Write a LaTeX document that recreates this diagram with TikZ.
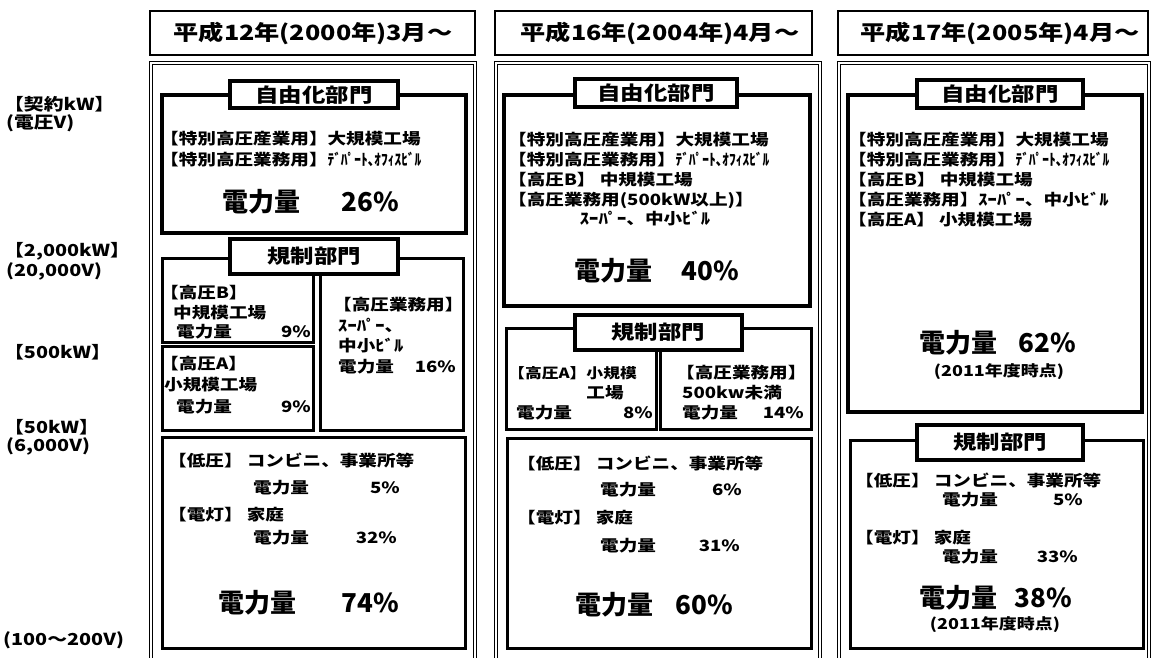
\documentclass[tikz,border=0pt]{standalone}
\usepackage{fontspec}
\setmainfont{Noto Sans CJK JP}
\newfontfamily\wide{Noto Sans CJK JP}[FakeStretch=1.2]
\newcommand{\hk}[1]{\scalebox{0.72}[1]{#1}}
\begin{document}
\begin{tikzpicture}[x=1pt,y=-1pt,
  t/.style={inner sep=0pt,font=\wide\bfseries\fontsize{15.5}{18}\selectfont},
  tw/.style={t,anchor=west},
  te/.style={t,anchor=east},
  big/.style={inner sep=0pt,font=\bfseries\fontsize{26}{28}\selectfont},
  note/.style={inner sep=0pt,font=\wide\bfseries\fontsize{15}{17}\selectfont},
  side/.style={inner sep=0pt,anchor=west,font=\wide\bfseries\fontsize{16.5}{18}\selectfont},
  hdr/.style={inner sep=0pt,font=\wide\bfseries\fontsize{21}{23}\selectfont},
  hdrbox/.style={draw,line width=2pt},
  frame/.style={draw,line width=1.1pt,double=white,double distance=2pt},
  libbox/.style={draw,line width=4pt},
  subbox/.style={draw,line width=3pt},
  seclab/.style={draw,line width=4pt,fill=white,inner sep=0pt,
    font=\wide\bfseries\fontsize{19.5}{22}\selectfont}]
\useasboundingbox (0,0) rectangle (1152,658);
\fill[white] (0,0) rectangle (1152,658);

% left scale labels
\node[side] (s1) at (4,104) {【契約kW】};
\node[side] (s2) at (6,123) {(電圧V)};
\node[side] (s3) at (4,251) {【2,000kW】};
\node[side] (s4) at (6,271) {(20,000V)};
\node[side] (s5) at (4,352) {【500kW】};
\node[side] (s6) at (4,427) {【50kW】};
\node[side] (s7) at (6,446) {(6,000V)};
\node[side] (s8) at (3,640) {(100〜200V)};

% ===== column 1 =====
\draw[hdrbox] (150,11) rectangle (475,55);
\node[hdr] (h1) at (313,33) {平成12年(2000年)3月〜};
\draw[frame] (151,63) rectangle (475,680);
\draw[libbox] (162,95) rectangle (466,233);
\node[seclab,minimum width=168pt,minimum height=27pt] (l1a) at (314,95) {自由化部門};
\node[tw] (c1a) at (160,139) {【特別高圧産業用】大規模工場};
\node[tw] (c1b) at (160,160) {【特別高圧業務用】\hk{ﾃﾞﾊﾟｰﾄ､ｵﾌｨｽﾋﾞﾙ}};
\node[big] (c1c) at (261,202) {電力量};
\node[big] (c1d) at (370,202) {26\%};
\draw[subbox] (162,258) rectangle (313,342);
\draw[subbox] (162,346) rectangle (313,430);
\draw[subbox] (320,258) rectangle (463,430);
\node[seclab,minimum width=168pt,minimum height=35pt] (l1b) at (314,256) {規制部門};
\node[tw] (c1e) at (160,293) {【高圧B】};
\node[tw] (c1f) at (173,313) {中規模工場};
\node[tw] (c1g) at (176,332) {電力量};
\node[te] (c1h) at (311,332) {9\%};
\node[tw] (c1i) at (160,364) {【高圧A】};
\node[tw] (c1j) at (164,385) {小規模工場};
\node[tw] (c1k) at (176,407) {電力量};
\node[te] (c1l) at (311,407) {9\%};
\node[tw] (c1m) at (333,305) {【高圧業務用】};
\node[tw] (c1n) at (338,325) {ｽｰﾊﾟｰ、};
\node[tw] (c1o) at (338,346) {中小ﾋﾞﾙ};
\node[tw] (c1p) at (338,367) {電力量};
\node[te] (c1q) at (456,367) {16\%};
\draw[subbox] (162,437) rectangle (465,648);
\node[tw] (c1r) at (168,460) {【低圧】 コンビニ、事業所等};
\node[tw] (c1s) at (253,488) {電力量};
\node[te] (c1t) at (400,488) {5\%};
\node[tw] (c1u) at (168,515) {【電灯】 家庭};
\node[tw] (c1v) at (253,538) {電力量};
\node[te] (c1w) at (397,538) {32\%};
\node[big] (c1x) at (257,603) {電力量};
\node[big] (c1y) at (370,603) {74\%};

% ===== column 2 =====
\draw[hdrbox] (495,11) rectangle (812,55);
\node[hdr] (h2) at (660,33) {平成16年(2004年)4月〜};
\draw[frame] (496,63) rectangle (820,680);
\draw[libbox] (504,95) rectangle (810,306);
\node[seclab,minimum width=162pt,minimum height=28pt] (l2a) at (656,93) {自由化部門};
\node[tw] (c2a) at (508,140) {【特別高圧産業用】大規模工場};
\node[tw] (c2b) at (508,160) {【特別高圧業務用】\hk{ﾃﾞﾊﾟｰﾄ､ｵﾌｨｽﾋﾞﾙ}};
\node[tw] (c2c) at (508,180) {【高圧B】 中規模工場};
\node[tw] (c2d) at (508,200) {【高圧業務用(500kW以上)】};
\node[t] (c2e) at (645,219) {ｽｰﾊﾟｰ、中小ﾋﾞﾙ};
\node[big] (c2f) at (613,271) {電力量};
\node[big] (c2g) at (710,271) {40\%};
\draw[subbox] (506,328) rectangle (656,429);
\draw[subbox] (660,328) rectangle (811,429);
\node[seclab,minimum width=167pt,minimum height=35pt] (l2b) at (658,332) {規制部門};
\node[tw,font=\wide\bfseries\fontsize{14}{16}\selectfont] (c2h) at (508,373) {【高圧A】小規模};
\node[t] (c2i) at (605,393) {工場};
\node[tw] (c2j) at (516,413) {電力量};
\node[te] (c2k) at (653,413) {8\%};
\node[tw] (c2l) at (676,373) {【高圧業務用】};
\node[tw] (c2m) at (682,393) {500kw未満};
\node[tw] (c2n) at (682,413) {電力量};
\node[te] (c2o) at (804,413) {14\%};
\draw[subbox] (507,438) rectangle (811,648);
\node[tw] (c2p) at (517,463) {【低圧】 コンビニ、事業所等};
\node[tw] (c2q) at (600,490) {電力量};
\node[te] (c2r) at (742,490) {6\%};
\node[tw] (c2s) at (517,518) {【電灯】 家庭};
\node[tw] (c2t) at (600,546) {電力量};
\node[te] (c2u) at (740,546) {31\%};
\node[big] (c2v) at (614,605) {電力量};
\node[big] (c2w) at (704,605) {60\%};

% ===== column 3 =====
\draw[hdrbox] (838,11) rectangle (1148,55);
\node[hdr] (h3) at (1000,33) {平成17年(2005年)4月〜};
\draw[frame] (839,63) rectangle (1149,680);
\draw[libbox] (848,95) rectangle (1142,412);
\node[seclab,minimum width=166pt,minimum height=28pt] (l3a) at (1000,94) {自由化部門};
\node[tw] (c3a) at (848,140) {【特別高圧産業用】大規模工場};
\node[tw] (c3b) at (848,160) {【特別高圧業務用】\hk{ﾃﾞﾊﾟｰﾄ､ｵﾌｨｽﾋﾞﾙ}};
\node[tw] (c3c) at (848,180) {【高圧B】 中規模工場};
\node[tw] (c3d) at (848,200) {【高圧業務用】ｽｰﾊﾟｰ、中小ﾋﾞﾙ};
\node[tw] (c3e) at (848,220) {【高圧A】 小規模工場};
\node[big] (c3f) at (958,343) {電力量};
\node[big] (c3g) at (1047,343) {62\%};
\node[note] (c3h) at (999,372) {(2011年度時点)};
\draw[subbox] (850,440) rectangle (1143,648);
\node[seclab,minimum width=166pt,minimum height=35pt] (l3b) at (1000,442) {規制部門};
\node[tw] (c3i) at (855,480) {【低圧】 コンビニ、事業所等};
\node[tw] (c3j) at (942,500) {電力量};
\node[te] (c3k) at (1083,500) {5\%};
\node[tw] (c3l) at (855,538) {【電灯】 家庭};
\node[tw] (c3m) at (942,557) {電力量};
\node[te] (c3n) at (1078,557) {33\%};
\node[big] (c3o) at (958,598) {電力量};
\node[big] (c3p) at (1043,598) {38\%};
\node[note] (c3q) at (995,625) {(2011年度時点)};
\end{tikzpicture}
\end{document}
